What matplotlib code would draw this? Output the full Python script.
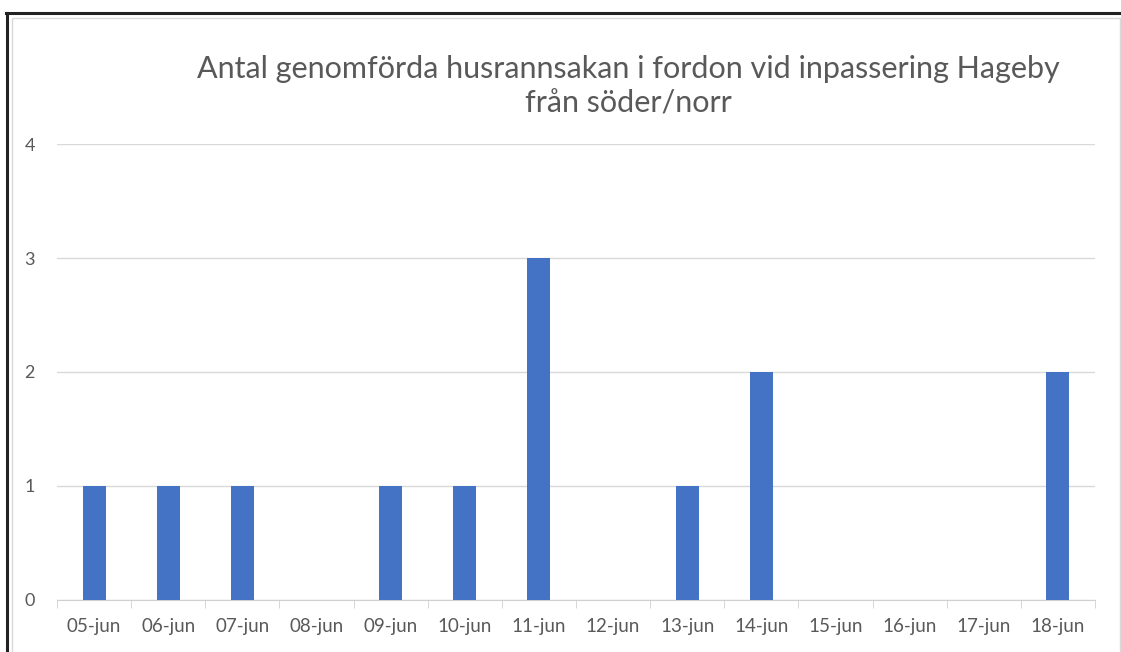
import numpy as np
import matplotlib.pyplot as plt
from matplotlib.patches import Rectangle
from matplotlib.lines import Line2D

dates = ['05-jun', '06-jun', '07-jun', '08-jun', '09-jun', '10-jun', '11-jun',
         '12-jun', '13-jun', '14-jun', '15-jun', '16-jun', '17-jun', '18-jun']
counts = [1, 1, 1, 0, 1, 1, 3, 0, 1, 2, 0, 0, 0, 2]
yticks = [0, 1, 2, 3, 4]
title = 'Antal genomförda husrannsakan i fordon vid inpassering Hageby\nfrån söder/norr'

plt.rcParams['font.family'] = ['Lato', 'DejaVu Sans']

W, H = 1121, 652
fig = plt.figure(figsize=(W / 100, H / 100), dpi=100)

# frame around the picture (screenshot look)
fig.add_artist(Line2D([6 / W, 1], [1 - 13 / H, 1 - 13 / H], color='#222222', lw=2.2))
fig.add_artist(Line2D([7 / W, 7 / W], [0, 1 - 13 / H], color='#222222', lw=2.2))
fig.add_artist(Rectangle((12 / W, -0.01), (1120 - 12) / W, 1 - 18 / H + 0.01,
                         fill=False, edgecolor='#d9d9d9', lw=1))

ax = fig.add_axes([57 / W, (H - 600) / H, (1095 - 57) / W, (600 - 144) / H])
x = np.arange(len(dates))
ax.bar(x, counts, width=0.31, color='#4472C4', zorder=3)

ax.set_xlim(-0.5, len(dates) - 0.5)
ax.set_ylim(0, 4)
ax.set_yticks(yticks)
ax.set_yticklabels([str(v) for v in yticks])
ax.yaxis.grid(True, color='#d9d9d9', lw=1)
ax.set_axisbelow(True)
for s in ['top', 'right', 'left']:
    ax.spines[s].set_visible(False)
ax.spines['bottom'].set_color('#d0d0d0')

ax.set_xticks(x)
ax.set_xticklabels(dates)
ax.set_xticks(np.arange(len(dates) + 1) - 0.5, minor=True)
ax.tick_params(axis='x', which='major', length=0, pad=13, labelsize=13.5, labelcolor='#595959')
ax.tick_params(axis='x', which='minor', length=6, color='#d0d0d0')
ax.tick_params(axis='y', length=0, pad=16, labelsize=13, labelcolor='#595959')

fig.text(628 / W, 1 - 86 / H, title, ha='center', va='center', fontsize=22,
         color='#595959', linespacing=1.3)

fig.savefig('out.png', dpi=100)
